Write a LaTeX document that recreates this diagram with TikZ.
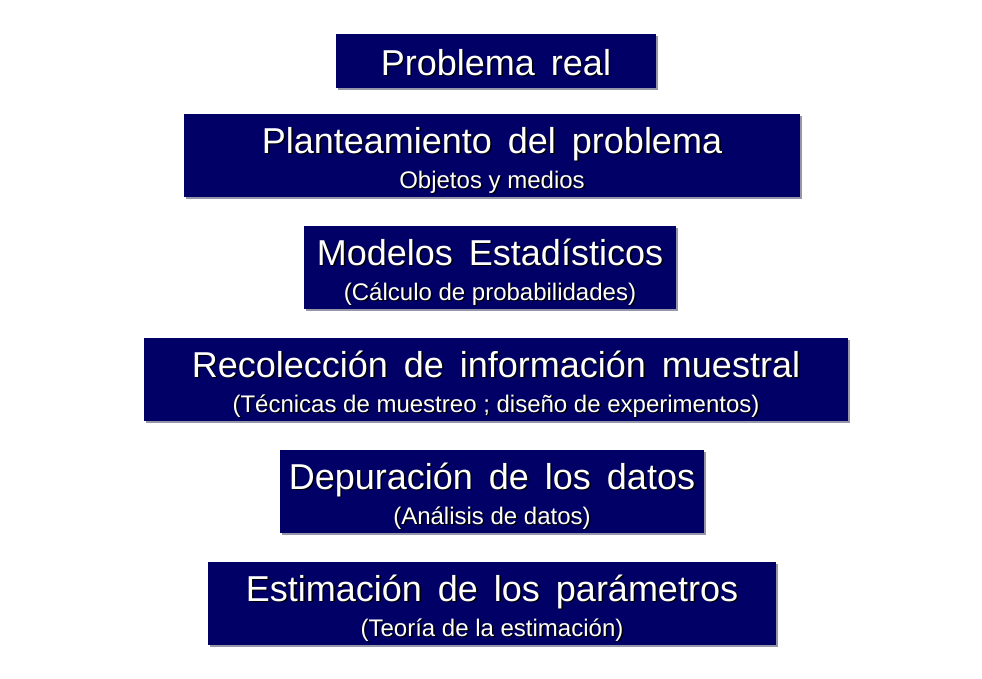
\documentclass[tikz,border=0pt]{standalone}
\usepackage{fontspec}
\setmainfont{Liberation Sans}
\newfontfamily\bigf{Liberation Sans}
\newfontfamily\smallf{Liberation Sans}
\definecolor{navybox}{RGB}{0,0,102}
\definecolor{boxshadow}{RGB}{150,150,170}
\newcommand\widesp{\spaceskip=16pt\relax}
\tikzset{
  box/.style={fill=navybox, draw=none},
  boxsh/.style={fill=boxshadow, draw=none},
  txt/.style={inner sep=0pt, anchor=base},
  mainfont/.style={font=\bigf\fontsize{36}{40}\selectfont, execute at begin node=\widesp},
  subfont/.style={font=\smallf\fontsize{24}{28}\selectfont},
}
\newcommand\mybox[5]{% name, x1, y1, x2, y2
  \fill[boxsh] (#2+1.5,#3+1.5) rectangle (#4+1.5,#5+1.5);
  \path[box] (#2,#3) rectangle (#4,#5);
  \coordinate (#1) at ({(#2+#4)/2},{(#3+#5)/2});
}
\newcommand\shtxt[5]{% name, x, y, style, text
  \node[txt,#4,text=black] (#1sh) at ({#2+1.5},{#3+1.5}) {#5};
  \node[txt,#4,text=white] (#1) at (#2,#3) {#5};
}
\begin{document}
\begin{tikzpicture}[x=1pt,y={(0,-1pt)}]
\useasboundingbox[fill=white] (0,0) rectangle (982,678);
\mybox{b1}{336}{34}{656}{88}
\mybox{b2}{184}{114}{800}{197}
\mybox{b3}{304}{226}{676}{309}
\mybox{b4}{144}{338}{848}{421}
\mybox{b5}{280}{450}{704}{533}
\mybox{b6}{208}{562}{776}{645}
\shtxt{m1}{496}{75}{mainfont}{Problema real}
\shtxt{m2}{492}{153}{mainfont}{Planteamiento del problema}
\shtxt{s2}{492}{188}{subfont}{Objetos y medios}
\shtxt{m3}{490}{265}{mainfont}{Modelos Estadísticos}
\shtxt{s3}{490}{300}{subfont}{(Cálculo de probabilidades)}
\shtxt{m4}{496}{377}{mainfont}{Recolección de información muestral}
\shtxt{s4}{496}{412}{subfont}{(Técnicas de muestreo ; diseño de experimentos)}
\shtxt{m5}{492}{489}{mainfont}{Depuración de los datos}
\shtxt{s5}{492}{524}{subfont}{(Análisis de datos)}
\shtxt{m6}{492}{601}{mainfont}{Estimación de los parámetros}
\shtxt{s6}{492}{636}{subfont}{(Teoría de la estimación)}
\end{tikzpicture}
\end{document}
